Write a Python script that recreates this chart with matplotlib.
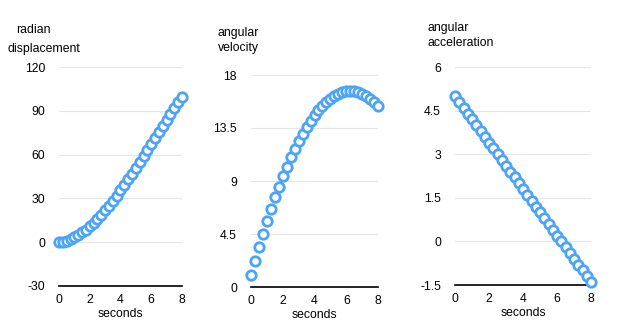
import matplotlib

matplotlib.use("Agg")
import matplotlib.pyplot as plt

# time samples every 0.25 s
seconds = [0, 0.25, 0.5, 0.75, 1.0, 1.25, 1.5, 1.75, 2.0, 2.25, 2.5, 2.75,
           3.0, 3.25, 3.5, 3.75, 4.0, 4.25, 4.5, 4.75, 5.0, 5.25, 5.5, 5.75,
           6.0, 6.25, 6.5, 6.75, 7.0, 7.25, 7.5, 7.75, 8.0]

displacement = [0.0, 0.40, 1.11, 2.10, 3.37, 4.90, 6.68, 8.69, 10.93, 13.39,
                16.04, 18.88, 21.90, 25.08, 28.41, 31.88, 35.47, 39.17, 42.98,
                46.87, 50.83, 54.86, 58.94, 63.06, 67.20, 71.35, 75.51, 79.65,
                83.77, 87.85, 91.88, 95.84, 99.73]

velocity = [1.0, 2.23, 3.4, 4.53, 5.6, 6.63, 7.6, 8.53, 9.4, 10.23, 11.0,
            11.73, 12.4, 13.03, 13.6, 14.13, 14.6, 15.03, 15.4, 15.73, 16.0,
            16.23, 16.4, 16.53, 16.6, 16.63, 16.6, 16.53, 16.4, 16.23, 16.0,
            15.73, 15.4]

acceleration = [5.0, 4.8, 4.6, 4.4, 4.2, 4.0, 3.8, 3.6, 3.4, 3.2, 3.0, 2.8,
                2.6, 2.4, 2.2, 2.0, 1.8, 1.6, 1.4, 1.2, 1.0, 0.8, 0.6, 0.4,
                0.2, 0.0, -0.2, -0.4, -0.6, -0.8, -1.0, -1.2, -1.4]

x_ticks = [0, 2, 4, 6, 8]
disp_ticks = [-30, 0, 30, 60, 90, 120]
vel_ticks = [0, 4.5, 9, 13.5, 18]
acc_ticks = [-1.5, 0, 1.5, 3, 4.5, 6]

BLUE = "#4da3f5"
W, H = 622, 323

plt.rcParams["font.family"] = ["Liberation Sans", "DejaVu Sans"]
plt.rcParams["font.size"] = 9

fig = plt.figure(figsize=(W / 100, H / 100), dpi=100)


def panel(left, right, top, bottom, ys, ticks, labels):
    ax = fig.add_axes([left / W, 1 - bottom / H, (right - left) / W, (bottom - top) / H])
    ax.plot(seconds, ys, "o", ms=6.8, mfc="white", mec=BLUE, mew=2.0,
            clip_on=False, zorder=3)
    ax.set_xlim(0, 8)
    ax.set_ylim(ticks[0], ticks[-1])
    ax.set_xticks(x_ticks)
    ax.set_yticks(ticks)
    ax.set_yticklabels([f"{t:g}" for t in ticks])
    ax.grid(axis="y", color="#e6e6e6", lw=0.8)
    ax.set_axisbelow(True)
    for side in ("left", "right", "top"):
        ax.spines[side].set_visible(False)
    ax.spines["bottom"].set_color("black")
    ax.spines["bottom"].set_linewidth(1.2)
    ax.tick_params(length=0, labelsize=8.8, pad=10)
    ax.tick_params(axis="x", pad=6)
    ax.set_xlabel("seconds", fontsize=8.8, labelpad=1)
    # two-line axis title above the y ticks
    for x0, y0, txt in labels:
        fig.text(x0 / W, 1 - y0 / H, txt, fontsize=8.8, ha="left", va="center")
    return ax


panel(59, 182, 67, 286, displacement, disp_ticks,
      [(16, 30, "radian"), (8, 49, "displacement")])
panel(251, 378, 75, 287, velocity, vel_ticks,
      [(218, 33, "angular"), (218, 48, "velocity")])
panel(455, 591, 67, 285, acceleration, acc_ticks,
      [(427, 28, "angular"), (427, 43, "acceleration")])

fig.savefig("out.png", dpi=100)
